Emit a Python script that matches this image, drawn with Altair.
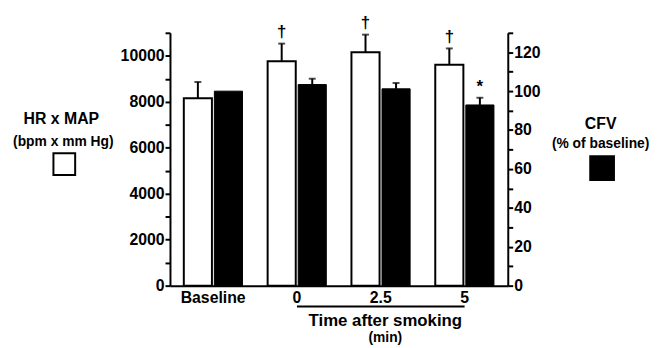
import altair as alt
import pandas as pd

categories = ["Baseline", "0", "2.5", "5"]
hr_map = [8150, 9760, 10150, 9610]
hr_map_err = [710, 770, 770, 710]
hr_marks = ["", "†", "†", "†"]
cfv = [100, 103.4, 101.2, 92.9]
cfv_err = [0, 3.0, 3.0, 3.7]
cfv_marks = ["", "", "", "*"]
series = ["HR x MAP", "CFV"]

FONT = "Liberation Sans"

hr_df = pd.DataFrame({
    "time": categories, "series": series[0], "value": hr_map,
    "top": [v + e for v, e in zip(hr_map, hr_map_err)], "err": hr_map_err, "mark": hr_marks,
})
cfv_df = pd.DataFrame({
    "time": categories, "series": series[1], "value": cfv,
    "top": [v + e for v, e in zip(cfv, cfv_err)], "err": cfv_err, "mark": cfv_marks,
})

x_scale = alt.Scale(domain=categories, paddingInner=0.3, paddingOuter=0.165)
x_axis = alt.Axis(title=None, labelAngle=0, ticks=False, tickSize=0,
                  domainColor="black", domainWidth=2,
                  labelFont=FONT, labelFontSize=16, labelFontWeight="bold",
                  labelColor="black", labelPadding=4)
x_enc = alt.X("time:N", scale=x_scale, axis=x_axis)
xo_enc = alt.XOffset("series:N", scale=alt.Scale(domain=series, paddingInner=0.08, paddingOuter=0))

left_axis = alt.Axis(orient="left", title=None, grid=False, format="d",
                     values=list(range(0, 11001, 1000)),
                     labelExpr="datum.value % 2000 == 0 ? datum.label : ''",
                     labelOverlap=False, tickSize=5, tickWidth=2, tickColor="black",
                     domainWidth=2, domainColor="black", labelPadding=1,
                     labelFont=FONT, labelFontSize=16, labelFontWeight="bold", labelColor="black")
right_axis = alt.Axis(orient="right", title=None, grid=False, format="d",
                      values=list(range(0, 131, 10)),
                      labelExpr="datum.value % 20 == 0 ? datum.label : ''",
                      labelOverlap=False, tickSize=5, tickWidth=2, tickColor="black",
                      domainWidth=2, domainColor="black", labelPadding=1,
                      labelFont=FONT, labelFontSize=16, labelFontWeight="bold", labelColor="black")

left_scale = alt.Scale(domain=[0, 11000], nice=False, zero=True)
right_scale = alt.Scale(domain=[0, 130], nice=False, zero=True)


def yl(field):
    return alt.Y(field, scale=left_scale, axis=left_axis)


def yr(field):
    return alt.Y(field, scale=right_scale, axis=right_axis)


hr_base = alt.Chart(hr_df)
hr_bar = hr_base.mark_bar(fill="white", stroke="black", strokeWidth=2).encode(
    x=x_enc, xOffset=xo_enc, y=yl("value:Q"))
hr_rule = hr_base.mark_rule(color="black", strokeWidth=2).encode(
    x=x_enc, xOffset=xo_enc, y=yl("value:Q"), y2="top:Q")
hr_cap = hr_base.mark_tick(color="black", thickness=2, size=7).encode(
    x=x_enc, xOffset=xo_enc, y=yl("top:Q"))
hr_txt = hr_base.mark_text(font=FONT, fontSize=17, fontWeight="bold", baseline="bottom",
                           dy=-3, color="black").encode(
    x=x_enc, xOffset=xo_enc, y=yl("top:Q"), text="mark:N")
left = alt.layer(hr_bar, hr_rule, hr_cap, hr_txt)

cfv_base = alt.Chart(cfv_df)
cfv_err_base = alt.Chart(cfv_df[cfv_df["err"] > 0])
cfv_bar = cfv_base.mark_bar(fill="black", stroke="black", strokeWidth=1).encode(
    x=x_enc, xOffset=xo_enc, y=yr("value:Q"))
cfv_rule = cfv_err_base.mark_rule(color="black", strokeWidth=2).encode(
    x=x_enc, xOffset=xo_enc, y=yr("value:Q"), y2="top:Q")
cfv_cap = cfv_err_base.mark_tick(color="black", thickness=2, size=7).encode(
    x=x_enc, xOffset=xo_enc, y=yr("top:Q"))
cfv_txt = cfv_base.mark_text(font=FONT, fontSize=17, fontWeight="bold", baseline="bottom",
                             dy=-2, color="black").encode(
    x=x_enc, xOffset=xo_enc, y=yr("top:Q"), text="mark:N")
right = alt.layer(cfv_bar, cfv_rule, cfv_cap, cfv_txt)

one = pd.DataFrame({"a": [0]})


def label(text, x, y, size, weight="bold"):
    return alt.Chart(one).mark_text(text=text, font=FONT, fontSize=size, fontWeight=weight,
                                    color="black", align="center", baseline="middle").encode(
        x=alt.value(x), y=alt.value(y))


under_df = pd.DataFrame({"start": ["0"], "end": ["5"]})
underline = alt.Chart(under_df).mark_rule(color="black", strokeWidth=2).encode(
    x=alt.X("start:N", scale=x_scale, axis=x_axis),
    x2="end:N", y=alt.value(277))

hr_key = alt.Chart(one).mark_square(size=484, filled=True, fill="white", stroke="black",
                                    strokeWidth=2, opacity=1).encode(
    x=alt.value(-107), y=alt.value(133))
cfv_key = alt.Chart(one).mark_square(size=576, filled=True, fill="black", stroke="black",
                                     opacity=1).encode(
    x=alt.value(437.5), y=alt.value(137))

annotations = alt.layer(
    underline,
    label("Time after smoking", 218, 292, 17),
    label("(min)", 218, 309, 14),
    label("HR x MAP", -110, 87, 16),
    label("(bpm x mm Hg)", -108, 111, 14),
    label("CFV", 436, 92, 16),
    label("(% of baseline)", 436, 113, 14),
    hr_key, cfv_key,
)

chart = alt.layer(left, right, annotations).resolve_scale(y="independent").properties(
    width=342, height=256,
    autosize=alt.AutoSizeParams(type="none"),
    padding={"left": 164, "top": 23, "right": 144, "bottom": 61},
    background="white",
).configure_view(stroke=None)

chart.save("out.html", embed_options={"renderer": "svg", "actions": False})
